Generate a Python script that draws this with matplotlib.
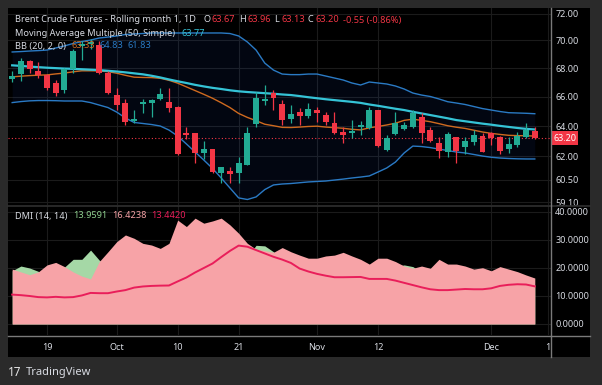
import matplotlib
matplotlib.use("Agg")
import matplotlib.pyplot as plt
import numpy as np
from matplotlib.patches import Rectangle
from matplotlib.lines import Line2D
from matplotlib.ticker import NullLocator, NullFormatter
from matplotlib.transforms import blended_transform_factory

# ---------------- data (daily bars, Sep 13 -> Dec 9) ----------------
opens = [67.21, 67.58, 68.48, 67.78, 67.49, 66.93, 66.46, 67.92, 69.57, 69.73,
         69.66, 67.63, 66.11, 65.54, 64.34, 65.47, 65.54, 65.84, 65.65, 65.30,
         63.55, 63.51, 62.19, 62.45, 60.95, 61.08, 60.91, 61.46, 64.13, 65.72,
         66.26, 65.47, 64.47, 64.96, 64.69, 65.07, 64.74, 64.22, 63.62, 63.51,
         63.91, 63.85, 65.07, 62.41, 63.45, 63.78, 63.95, 64.63, 63.73, 62.89,
         62.30, 63.25, 62.59, 62.96, 63.36, 63.51, 63.29, 62.45, 62.74, 63.25, 63.67]
highs = [67.81, 68.76, 68.57, 68.43, 67.55, 67.16, 67.99, 69.38, 69.97, 70.10,
         69.95, 67.79, 66.60, 65.84, 65.07, 65.84, 65.82, 66.58, 66.58, 65.35,
         63.95, 63.53, 63.02, 62.47, 61.31, 61.29, 61.98, 63.91, 66.30, 66.81,
         66.43, 65.77, 65.42, 65.24, 65.54, 65.30, 64.96, 64.96, 63.95, 64.40,
         64.36, 65.30, 65.10, 63.40, 64.96, 64.29, 65.07, 64.85, 63.91, 63.29,
         63.62, 63.29, 63.29, 63.73, 63.51, 63.62, 63.31, 63.29, 63.62, 64.18, 63.96]
lows = [67.04, 67.11, 67.68, 67.30, 66.46, 66.03, 66.26, 67.63, 68.57, 69.38,
        67.58, 66.20, 65.07, 64.07, 64.18, 64.86, 64.63, 65.80, 64.95, 62.10,
        63.11, 61.55, 61.81, 60.93, 60.27, 60.31, 60.27, 61.44, 63.91, 65.42,
        65.07, 64.07, 64.18, 64.07, 64.52, 64.29, 64.07, 63.49, 62.85, 63.18,
        63.40, 63.80, 62.59, 62.37, 63.40, 63.73, 63.85, 62.85, 62.96, 61.89,
        61.98, 61.59, 62.15, 62.74, 62.28, 62.74, 62.15, 62.19, 62.63, 63.18, 63.13]
closes = [67.44, 68.52, 67.92, 67.49, 66.62, 66.26, 67.92, 69.24, 69.73, 69.88,
          67.65, 66.26, 65.42, 64.29, 64.45, 65.61, 65.77, 66.16, 65.19, 62.13,
          63.38, 62.23, 62.45, 61.01, 61.29, 60.87, 61.59, 63.51, 65.89, 65.82,
          65.91, 64.40, 64.81, 64.69, 65.12, 64.85, 64.25, 63.51, 63.40, 63.69,
          64.07, 65.07, 62.67, 63.18, 64.22, 64.07, 64.89, 63.55, 63.02, 62.37,
          63.47, 62.37, 63.00, 63.40, 62.30, 63.22, 62.37, 62.80, 63.33, 63.73, 63.20]

ma50 = [68.20, 68.16, 68.11, 68.07, 68.03, 68.00, 67.97, 67.95, 67.92, 67.89,
        67.86, 67.81, 67.76, 67.70, 67.63, 67.56, 67.46, 67.34, 67.20, 67.07,
        66.95, 66.82, 66.71, 66.61, 66.53, 66.44, 66.37, 66.32, 66.28, 66.24,
        66.20, 66.15, 66.11, 66.04, 65.96, 65.89, 65.82, 65.76, 65.70, 65.64,
        65.57, 65.46, 65.37, 65.27, 65.17, 65.08, 64.96, 64.85, 64.74, 64.63,
        64.52, 64.40, 64.32, 64.24, 64.16, 64.09, 64.01, 63.94, 63.87, 63.81, 63.77]
bb_upper = [69.16, 69.19, 69.23, 69.26, 69.30, 69.45, 69.60, 69.78, 69.92, 70.03,
            70.18, 70.25, 70.33, 70.44, 70.48, 70.51, 70.55, 70.55, 70.55, 70.55,
            70.55, 70.55, 70.55, 70.55, 70.55, 70.51, 70.33, 69.89, 69.30, 68.36,
            67.86, 67.58, 67.54, 67.54, 67.58, 67.58, 67.44, 67.30, 67.16, 66.95,
            66.81, 67.02, 66.95, 66.88, 66.74, 66.53, 66.25, 66.11, 66.01, 65.84,
            65.65, 65.56, 65.46, 65.32, 65.18, 65.08, 64.98, 64.90, 64.88, 64.86, 64.83]
bb_mid = [67.38, 67.43, 67.47, 67.50, 67.52, 67.59, 67.65, 67.74, 67.81, 67.81,
          67.80, 67.75, 67.64, 67.49, 67.36, 67.34, 67.33, 67.28, 67.14, 66.94,
          66.68, 66.42, 66.16, 65.89, 65.58, 65.25, 64.85, 64.58, 64.36, 64.12,
          64.02, 63.91, 63.90, 63.93, 63.97, 63.99, 63.93, 63.89, 63.85, 63.78,
          63.74, 63.88, 63.97, 64.07, 64.19, 64.38, 64.46, 64.38, 64.29, 64.16,
          64.02, 63.92, 63.84, 63.72, 63.60, 63.51, 63.44, 63.38, 63.36, 63.35, 63.33]
bb_lower = [65.59, 65.66, 65.71, 65.73, 65.73, 65.72, 65.70, 65.70, 65.70, 65.59,
            65.42, 65.25, 64.94, 64.54, 64.24, 64.17, 64.10, 64.00, 63.73, 63.33,
            62.81, 62.28, 61.76, 61.22, 60.61, 59.98, 59.36, 59.26, 59.42, 59.88,
            60.17, 60.23, 60.26, 60.31, 60.36, 60.39, 60.42, 60.48, 60.54, 60.61,
            60.67, 60.74, 60.99, 61.25, 61.63, 62.22, 62.67, 62.64, 62.57, 62.47,
            62.38, 62.28, 62.22, 62.12, 62.02, 61.94, 61.89, 61.86, 61.84, 61.83, 61.83]

plus_di = [19.0, 20.7, 20.0, 18.8, 17.5, 16.8, 20.3, 23.1, 23.1, 26.4,
           22.8, 20.5, 18.5, 16.5, 17.5, 18.0, 18.5, 19.5, 18.0, 14.0,
           13.5, 12.5, 14.0, 12.5, 12.0, 14.5, 17.0, 24.0, 28.1, 27.9,
           25.8, 23.5, 23.0, 22.5, 22.0, 21.5, 20.5, 19.5, 18.5, 19.0,
           19.5, 21.0, 18.5, 19.0, 20.5, 21.1, 20.5, 18.5, 17.5, 16.5,
           17.5, 16.5, 17.0, 17.5, 16.5, 16.0, 15.0, 15.0, 15.5, 15.5, 13.96]
minus_di = [19.6, 18.6, 17.6, 18.6, 21.1, 22.0, 20.5, 18.6, 17.1, 16.1,
            22.3, 25.8, 29.4, 31.8, 30.6, 28.8, 28.2, 27.0, 28.8, 37.1,
            34.8, 37.8, 36.0, 36.8, 37.8, 35.4, 32.4, 28.8, 26.7, 26.2,
            25.6, 27.3, 25.8, 24.6, 23.5, 23.5, 24.3, 24.6, 25.6, 24.3,
            23.1, 21.4, 23.5, 23.5, 22.3, 20.7, 19.9, 20.7, 19.9, 23.1,
            21.4, 21.4, 20.7, 19.6, 20.1, 19.0, 20.5, 19.6, 18.7, 17.5, 16.42]
adx = [10.5, 10.3, 10.0, 9.6, 9.5, 9.7, 9.5, 9.6, 10.2, 11.1,
       11.0, 11.0, 11.6, 12.1, 13.0, 13.4, 13.6, 13.7, 13.75, 15.2,
       16.6, 18.4, 20.0, 21.6, 23.9, 26.1, 28.0, 27.6, 26.4, 25.2,
       24.0, 23.0, 21.8, 19.8, 18.75, 17.9, 17.25, 16.7, 16.7, 16.75,
       16.8, 16.1, 16.1, 16.1, 15.5, 14.7, 13.9, 13.1, 12.4, 12.1,
       12.1, 12.3, 12.5, 12.4, 12.4, 12.75, 13.6, 14.0, 14.2, 14.1, 13.44]

time_tick_pos = [4, 12, 19, 26, 35, 42, 55, 61.5]
time_tick_labels = ["19", "Oct", "10", "21", "Nov", "12", "Dec", "1"]
month_labels = {"Oct", "Nov", "Dec"}
price_ticks = [59.1, 60.5, 62.0, 64.0, 66.0, 68.0, 70.0, 72.0]
dmi_ticks = [0, 10, 20, 30, 40]
last_price = 63.20

# ---------------- style ----------------
W, H = 602, 385
FONT = "Noto Sans"
TXT = "#d8dbe2"
UP, DN = "#22ab94", "#f23645"
GRID = "#1b1b1b"
plt.rcParams["font.family"] = [FONT, "DejaVu Sans"]

fig = plt.figure(figsize=(W / 100, H / 100), dpi=100, facecolor="#2a2a2a")


def rect(x0, y0, x1, y1):
    return [x0 / W, 1 - y1 / H, (x1 - x0) / W, (y1 - y0) / H]


bg = fig.add_axes(rect(8, 8, 590, 357), zorder=-5)
bg.set_facecolor("black")
bg.set_xticks([])
bg.set_yticks([])
for s in bg.spines.values():
    s.set_visible(False)

ax1 = fig.add_axes(rect(8, 8, 551, 205))
ax2 = fig.add_axes(rect(8, 206, 551, 335))
x = np.arange(len(closes))
xlim = (-0.48, 61.86)

for ax in (ax1, ax2):
    ax.set_facecolor("black")
    for s in ax.spines.values():
        s.set_visible(False)
    ax.set_xlim(*xlim)
    ax.set_xticks(time_tick_pos)
    ax.grid(True, color=GRID, lw=0.8, zorder=0)
    ax.set_axisbelow(True)
    ax.yaxis.tick_right()

# ---------------- price pane ----------------
ax1.set_yscale("log")
ax1.set_ylim(58.92, 72.42)
ax1.yaxis.set_minor_locator(NullLocator())
ax1.yaxis.set_minor_formatter(NullFormatter())
ax1.set_yticks(price_ticks)
ax1.set_yticklabels([f"{t:.2f}" for t in price_ticks])
ax1.yaxis.set_minor_locator(NullLocator())
ax1.tick_params(axis="y", length=0, pad=3, labelsize=6.5, labelcolor=TXT)
ax1.tick_params(axis="x", length=0, labelbottom=False)

ax1.fill_between(x, bb_lower, bb_upper, color="#2962ff", alpha=0.07, lw=0, zorder=1)
ax1.plot(x, bb_upper, color="#2a7ac4", lw=1.0, zorder=2)
ax1.plot(x, bb_lower, color="#2a7ac4", lw=1.0, zorder=2)
ax1.plot(x, bb_mid, color="#cf6a1f", lw=1.0, zorder=2)
ax1.plot(x, ma50, color="#35c3d6", lw=1.6, zorder=2)

o, h, l, c = map(np.array, (opens, highs, lows, closes))
cols = np.where(c >= o, UP, DN)
ax1.vlines(x, l, h, colors=cols, lw=0.9, zorder=3)
bottoms = np.minimum(o, c)
heights = np.maximum(np.abs(c - o), 0.025)
ax1.bar(x, heights, bottom=bottoms, width=0.68, color=cols, lw=0, zorder=4)

ax1.axhline(last_price, color=DN, lw=0.8, ls=(0, (1, 2)), zorder=2)
tr = blended_transform_factory(ax1.transAxes, ax1.transData)
ax1.text(1.004, last_price, f"{last_price:.2f}", transform=tr, color="white",
         fontsize=6.5, va="center", ha="left", clip_on=False, zorder=10,
         bbox=dict(boxstyle="square,pad=0.25", fc=DN, ec="none"))

# ---------------- DMI pane ----------------
ax2.set_ylim(-3.93, 42.14)
ax2.set_yticks(dmi_ticks)
ax2.set_yticklabels([f"{t:.4f}" for t in dmi_ticks])
ax2.tick_params(axis="y", length=0, pad=3, labelsize=6.5, labelcolor=TXT)
ax2.fill_between(x, 0, plus_di, color="#a5d8a6", lw=0, zorder=1)
ax2.fill_between(x, 0, minus_di, color="#f7a3a7", lw=0, zorder=2)
ax2.plot(x, adx, color="#e91e5a", lw=1.4, zorder=3)
ax2.set_xticks(time_tick_pos)
ax2.set_xticklabels(time_tick_labels)
ax2.tick_params(axis="x", length=0, pad=5.5, labelsize=6.5, labelcolor=TXT)
for t in ax2.get_xticklabels():
    if t.get_text() in month_labels:
        t.set_fontweight("bold")

# ---------------- separators ----------------
fig.add_artist(Line2D([8 / W, 590 / W], [1 - 205.5 / H] * 2, color="#303030", lw=1.2))
fig.add_artist(Line2D([8 / W, 590 / W], [1 - 335.5 / H] * 2, color="#7a7a7a", lw=1.0))
fig.add_artist(Line2D([551 / W] * 2, [1 - 8 / H, 1 - 357 / H], color="#7a7a7a", lw=1.0))


# ---------------- legends ----------------
def ftext(px, py, s, color=TXT, **kw):
    fig.text(px / W, 1 - py / H, s, color=color, fontsize=6.6, va="center",
             ha="left", **kw)


ftext(15, 20, "Brent Crude Futures - Rolling month 1, 1D")
for lab, val, xl, xv in [("O", "63.67", 203, 211), ("H", "63.96", 239, 248),
                         ("L", "63.13", 274, 281), ("C", "63.20", 308, 315)]:
    ftext(xl, 20, lab)
    ftext(xv, 20, val, color=DN)
ftext(343, 20, "-0.55 (-0.86%)", color=DN)

ftext(15, 33, "Moving Average Multiple (50, Simple)")
ftext(182, 33, "63.77", color="#35c3d6")

ftext(15, 46, "BB (20, 2, 0)")
ftext(71, 46, "63.33", color="#cf6a1f")
ftext(99, 46, "64.83", color="#2a7ac4")
ftext(128, 46, "61.83", color="#2a7ac4")

ftext(15, 216, "DMI (14, 14)")
ftext(73, 216, "13.9591", color="#8fd08f")
ftext(112, 216, "16.4238", color="#f7a3a7")
ftext(151, 216, "13.4420", color="#e91e5a")

# footer
fig.text(8 / W, 1 - 372 / H, "17", color="#e6e6e6", fontsize=8.5,
         fontweight="heavy", va="center", ha="left")
fig.text(26 / W, 1 - 372 / H, "TradingView", color="#d8dbe2", fontsize=8,
         va="center", ha="left")

fig.savefig("out.png", dpi=100, facecolor=fig.get_facecolor())
